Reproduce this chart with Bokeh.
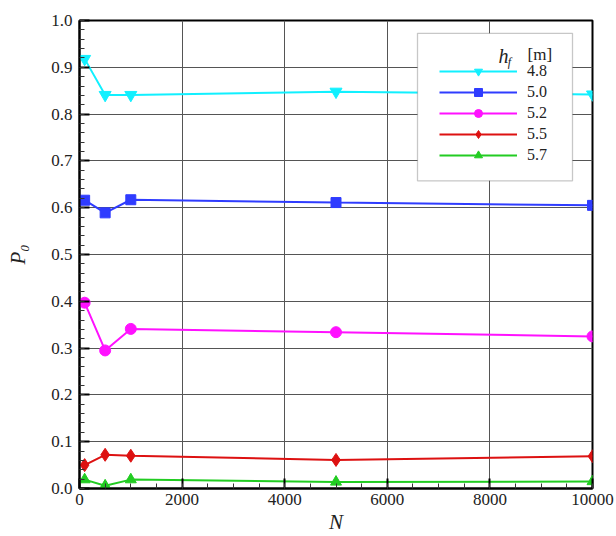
from bokeh.plotting import figure
from bokeh.models import (Range1d, SingleIntervalTicker, NumeralTickFormatter,
                          Legend, LegendItem, BoxAnnotation, Label)
from bokeh.embed import file_html
from bokeh.resources import INLINE

# ---- data ----
N = [100, 500, 1000, 5000, 10000]
hf_labels = ["4.8", "5.0", "5.2", "5.5", "5.7"]
p0_48 = [0.918, 0.841, 0.841, 0.848, 0.842]
p0_50 = [0.616, 0.589, 0.617, 0.611, 0.605]
p0_52 = [0.397, 0.295, 0.341, 0.334, 0.325]
p0_55 = [0.050, 0.072, 0.070, 0.061, 0.069]
p0_57 = [0.019, 0.006, 0.019, 0.014, 0.015]
series = [p0_48, p0_50, p0_52, p0_55, p0_57]
colors = ["#11f0ff", "#2f3cff", "#ff11ff", "#dd1111", "#22cc22"]
markers = ["inverted_triangle", "square", "circle", "diamond", "triangle"]
msizes = [12, 10, 11, 13, 11]

FONT = "Liberation Serif"

# frame geometry (pixels)
L, R, T, B = 79, 592, 20, 493
W, H = 616, 536
XMAX, YMAX = 10000, 1.0

def dx(px):
    return (px - L) * XMAX / (R - L)

def dy(py):
    return (B - py) * YMAX / (B - T)

p = figure(width=W, height=H, output_backend="svg", toolbar_location=None,
           x_range=Range1d(0, XMAX), y_range=Range1d(0, YMAX),
           min_border_left=L, min_border_right=W - R,
           min_border_top=T, min_border_bottom=H - B)
p.background_fill_color = "white"
p.border_fill_color = "white"
p.outline_line_color = "black"
p.outline_line_width = 2

p.xaxis.ticker = SingleIntervalTicker(interval=2000, num_minor_ticks=4)
p.yaxis.ticker = SingleIntervalTicker(interval=0.1, num_minor_ticks=5)
p.yaxis.formatter = NumeralTickFormatter(format="0.0")
p.xaxis.formatter = NumeralTickFormatter(format="0")

for ax in (p.xaxis[0], p.yaxis[0]):
    ax.axis_line_color = "black"
    ax.axis_line_width = 2
    ax.major_tick_in = 10
    ax.major_tick_out = 0
    ax.minor_tick_in = 5
    ax.minor_tick_out = 0
    ax.major_tick_line_width = 2
    ax.major_tick_line_color = "black"
    ax.minor_tick_line_color = "#333333"
    ax.minor_tick_line_width = 1
    ax.major_label_text_font = FONT
    ax.major_label_text_font_size = "17px"
    ax.major_label_text_color = "#222222"
    ax.axis_label_text_font = FONT
    ax.axis_label_text_font_style = "italic"
    ax.axis_label_text_font_size = "21px"
    ax.axis_label_text_color = "#222222"

p.yaxis.major_label_standoff = 7
p.xaxis.major_label_standoff = 5
p.xaxis.axis_label = "N"
p.xaxis.axis_label_standoff = 2
p.yaxis.axis_label = "P\u2080"
p.yaxis.axis_label_standoff = 18

p.xgrid.grid_line_color = "#555555"
p.ygrid.grid_line_color = "#555555"
p.xgrid.grid_line_width = 1
p.ygrid.grid_line_width = 1

items = []
for lab, ys, c, m, s in zip(hf_labels, series, colors, markers, msizes):
    ln = p.line(N, ys, line_color=c, line_width=2)
    sc = p.scatter(N, ys, marker=m, size=s, fill_color=c, line_color=c)
    items.append(LegendItem(label=lab, renderers=[ln, sc]))

# legend frame
box = BoxAnnotation(left=dx(417), right=dx(572), top=dy(33), bottom=dy(182),
                    fill_color="white", fill_alpha=1.0,
                    line_color="#444444", line_width=1.3)
p.add_layout(box)

leg = Legend(items=items, location=(439 - L, B - 170),
             padding=0, margin=0, spacing=1,
             glyph_width=78, glyph_height=20, label_height=20,
             label_standoff=10,
             border_line_alpha=0, background_fill_alpha=0,
             label_text_font=FONT, label_text_font_size="16px",
             label_text_color="#222222")
p.add_layout(leg)

# legend title h_f [m]
p.add_layout(Label(x=dx(503), y=dy(56), text="h", text_font=FONT,
                   text_font_style="italic", text_font_size="20px",
                   text_align="center", text_baseline="alphabetic",
                   text_color="#222222"))
p.add_layout(Label(x=dx(509), y=dy(62), text="f", text_font=FONT,
                   text_font_style="italic", text_font_size="12px",
                   text_align="center", text_baseline="alphabetic",
                   text_color="#222222"))
p.add_layout(Label(x=dx(527), y=dy(54), text="[m]", text_font=FONT,
                   text_font_size="17px",
                   text_align="left", text_baseline="alphabetic",
                   text_color="#222222"))

open("out.html", "w").write(file_html(p, INLINE))
